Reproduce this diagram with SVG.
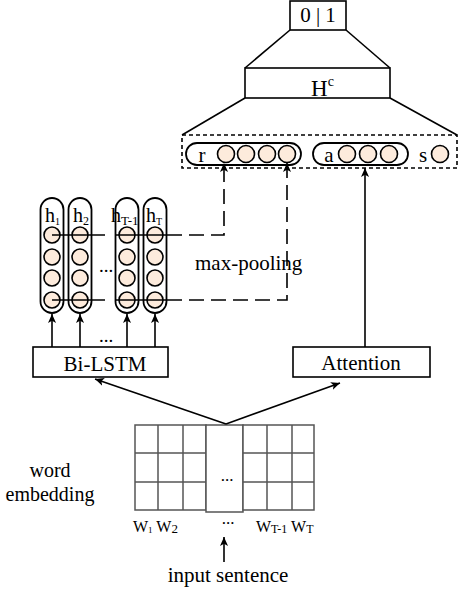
<svg xmlns="http://www.w3.org/2000/svg" width="460" height="592" viewBox="0 0 460 592">
<defs>
<marker id="ah" viewBox="0 0 10 10" refX="10" refY="5" markerWidth="9" markerHeight="9" markerUnits="userSpaceOnUse" orient="auto">
<path d="M0,0.5 L10,5 L0,9.5 L2.5,5 z" fill="#000"/>
</marker>
<style>
text{font-family:"Liberation Serif","Times New Roman",serif;fill:#000}
.t{font-size:21px}
.box{fill:#fff;stroke:#000;stroke-width:1.6}
.pill{fill:#fff;stroke:#000;stroke-width:1.8}
.c{fill:#fdebdc;stroke:#000;stroke-width:1.6}
.ln{fill:none;stroke:#000;stroke-width:1.6}
.dash{fill:none;stroke:#000;stroke-width:1.6;stroke-dasharray:15,7}
.fine{fill:none;stroke:#000;stroke-width:1.6;stroke-dasharray:4,3}
.grid{fill:#fff;stroke:#555;stroke-width:1.5}
</style>
</defs>

<g id="output">
<rect class="box" x="290" y="1" width="56" height="29"/>
<text class="t" x="318" y="22" text-anchor="middle">0 | 1</text>
</g>

<g id="hc">
<line class="ln" x1="290" y1="30" x2="245" y2="68"/>
<line class="ln" x1="346" y1="30" x2="390" y2="68"/>
<rect class="box" x="245" y="68" width="145" height="30" stroke-width="2"/>
<text x="311" y="96" font-size="23">H<tspan font-size="14" dy="-10">c</tspan></text>
<line class="ln" x1="245" y1="98" x2="182" y2="135"/>
<line class="ln" x1="390" y1="98" x2="457" y2="135"/>
</g>

<g id="features">
<rect class="fine" x="182" y="135" width="275" height="33"/>
<g id="r">
<rect class="pill" x="186" y="143" width="115" height="22" rx="11"/>
<text class="t" x="202" y="162" text-anchor="middle">r</text>
<circle class="c" cx="226" cy="154" r="8.5"/>
<circle class="c" cx="246" cy="154" r="8.5"/>
<circle class="c" cx="267" cy="154" r="8.5"/>
<circle class="c" cx="287" cy="154" r="8.5"/>
</g>
<g id="a">
<rect class="pill" x="313" y="143" width="95" height="22" rx="11"/>
<text class="t" x="329" y="162" text-anchor="middle">a</text>
<circle class="c" cx="347" cy="154" r="8.5"/>
<circle class="c" cx="368" cy="154" r="8.5"/>
<circle class="c" cx="389" cy="154" r="8.5"/>
</g>
<g id="s">
<text class="t" x="423" y="162" text-anchor="middle">s</text>
<circle class="c" cx="440" cy="154" r="8.5"/>
</g>
</g>

<g id="hidden">
<g id="h1">
<rect class="pill" x="40.5" y="198" width="23" height="115" rx="11.5"/>
<text x="45" y="222" font-size="20">h<tspan font-size="10" dy="3">1</tspan></text>
<circle class="c" cx="52" cy="235" r="8"/>
<circle class="c" cx="52" cy="257" r="8"/>
<circle class="c" cx="52" cy="278" r="8"/>
<circle class="c" cx="52" cy="300" r="8"/>
</g>
<g id="h2">
<rect class="pill" x="68.5" y="198" width="23" height="115" rx="11.5"/>
<text x="73" y="222" font-size="20">h<tspan font-size="12" dy="3">2</tspan></text>
<circle class="c" cx="80" cy="235" r="8"/>
<circle class="c" cx="80" cy="257" r="8"/>
<circle class="c" cx="80" cy="278" r="8"/>
<circle class="c" cx="80" cy="300" r="8"/>
</g>
<g id="hT-1">
<rect class="pill" x="115.5" y="198" width="23" height="115" rx="11.5"/>
<text x="111" y="222" font-size="20">h<tspan font-size="13" dy="3">T-1</tspan></text>
<circle class="c" cx="127" cy="235" r="8"/>
<circle class="c" cx="127" cy="257" r="8"/>
<circle class="c" cx="127" cy="278" r="8"/>
<circle class="c" cx="127" cy="300" r="8"/>
</g>
<g id="hT">
<rect class="pill" x="143.5" y="198" width="23" height="115" rx="11.5"/>
<text x="146" y="222" font-size="20">h<tspan font-size="10" dy="3">T</tspan></text>
<circle class="c" cx="155" cy="235" r="8"/>
<circle class="c" cx="155" cy="257" r="8"/>
<circle class="c" cx="155" cy="278" r="8"/>
<circle class="c" cx="155" cy="300" r="8"/>
</g>
<text x="106" y="272" font-size="19" text-anchor="middle">...</text>
</g>

<g id="bilstm">
<rect class="box" x="33" y="347" width="135" height="30"/>
<text class="t" x="105" y="371" text-anchor="middle">Bi-LSTM</text>
</g>

<g id="attention">
<rect class="box" x="293" y="347" width="137" height="30"/>
<text class="t" x="361" y="370" text-anchor="middle">Attention</text>
</g>

<g id="embedding">
<rect class="grid" x="135" y="425" width="71" height="85"/>
<rect class="grid" x="206" y="425" width="37" height="87"/>
<rect class="grid" x="243" y="425" width="71" height="85"/>
<path class="grid" fill="none" d="M158,425 V510 M183,425 V510 M267,425 V510 M292,425 V510 M135,453 H206 M135,482 H206 M243,453 H314 M243,482 H314"/>
<text x="227" y="481" font-size="17" text-anchor="middle">...</text>
<text x="50" y="477" font-size="20" text-anchor="middle">word</text>
<text x="50" y="501" font-size="20" text-anchor="middle">embedding</text>
<text x="133" y="532" font-size="16">W<tspan font-size="9" dy="1">1</tspan><tspan dy="-1"> W</tspan><tspan font-size="13" dy="1">2</tspan></text>
<text x="228" y="524" font-size="17" text-anchor="middle">...</text>
<text x="256" y="532" font-size="16">W<tspan font-size="12" dy="1">T-1</tspan><tspan dy="-1"> W</tspan><tspan font-size="12" dy="1">T</tspan></text>
<text class="t" x="228" y="582" text-anchor="middle">input sentence</text>
</g>

<g id="connectors">
<line class="ln" x1="52" y1="235" x2="105" y2="235"/>
<line class="ln" x1="115" y1="235" x2="167" y2="235"/>
<line class="ln" x1="52" y1="300" x2="105" y2="300"/>
<line class="ln" x1="115" y1="300" x2="167" y2="300"/>
<path class="dash" d="M167,235 H224 V163" marker-end="url(#ah)"/>
<path class="dash" d="M167,300 H287 V163" marker-end="url(#ah)"/>
<line class="ln" x1="52" y1="347" x2="52" y2="314" marker-end="url(#ah)"/>
<line class="ln" x1="80" y1="347" x2="80" y2="314" marker-end="url(#ah)"/>
<line class="ln" x1="127" y1="347" x2="127" y2="314" marker-end="url(#ah)"/>
<line class="ln" x1="155" y1="347" x2="155" y2="314" marker-end="url(#ah)"/>
<text x="106" y="342" font-size="19" text-anchor="middle">...</text>
<line class="ln" x1="365" y1="347" x2="365" y2="168" marker-end="url(#ah)"/>
<line class="ln" x1="226" y1="424" x2="95" y2="379" marker-end="url(#ah)"/>
<line class="ln" x1="226" y1="424" x2="340" y2="383" marker-end="url(#ah)"/>
<line class="ln" x1="224" y1="562" x2="224" y2="537" marker-end="url(#ah)"/>
<text x="195" y="270" class="t">max-pooling</text>
</g>
</svg>
